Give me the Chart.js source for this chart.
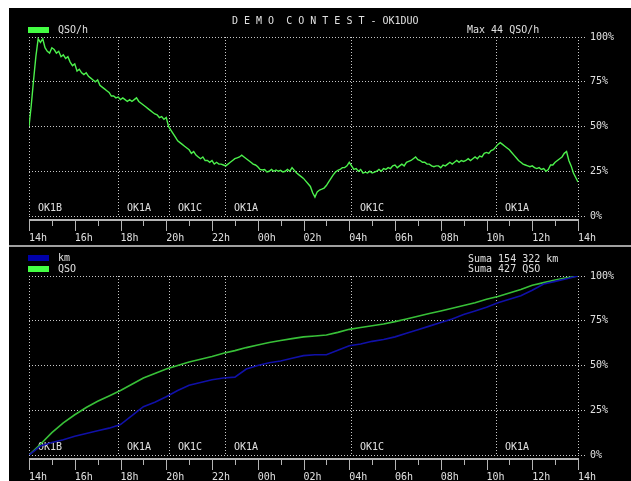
<!DOCTYPE html>
<html>
<head>
<meta charset="utf-8">
<script src="https://cdn.jsdelivr.net/npm/chart.js@4.4.1/dist/chart.umd.min.js"></script>
<style>
    body { margin: 0; background: #fff; }
    #panel {
        position: absolute; left: 9px; top: 8px; width: 622px; height: 473px;
        background: #000; overflow: hidden;
        font: 10px 'DejaVu Sans Mono', monospace; color: #e0e0e0;
    }
    .t { position: absolute; line-height: 10px; white-space: pre; }
    .box { position: absolute; width: 21px; height: 6px; }
    canvas { position: absolute; left: 0; }
    #sep { position: absolute; left: 0; top: 237px; width: 622px; height: 2px; background: #a0a0a0; }
</style>
</head>
<body>
<div id="panel">
    <canvas id="rateChart" width="622" height="237" style="top:0"></canvas>
    <div id="sep"></div>
    <canvas id="sumChart" width="622" height="234" style="top:239px"></canvas>

    <div class="t" style="left:223px;top:8px">D E M O  C O N T E S T - OK1DUO</div>
    <div class="box" style="left:19px;top:19px;background:#44ff44"></div>
    <div class="t" style="left:49px;top:17px">QSO/h</div>
    <div class="t" style="left:458px;top:17px">Max 44 QSO/h</div>

    <div class="box" style="left:19px;top:247px;background:#0000aa"></div>
    <div class="t" style="left:49px;top:245px">km</div>
    <div class="box" style="left:19px;top:258px;background:#44ff44"></div>
    <div class="t" style="left:49px;top:256px">QSO</div>
    <div class="t" style="left:459px;top:246px">Suma 154 322 km</div>
    <div class="t" style="left:459px;top:256px">Suma 427 QSO</div>
</div>

<script>
// ================================================================
// DATOS
// ================================================================
// horas desde 14h (eje X lineal 0..24)
const hourLabels = ['14h', '16h', '18h', '20h', '22h', '00h', '02h', '04h',
                    '06h', '08h', '10h', '12h', '14h'];

// cambios de estación (horas desde 14h) y nombre
const changeTimes = [0, 3.89, 6.11, 8.56, 14.06, 20.40, 24];
const changeStations = ['OK1B', 'OK1A', 'OK1C', 'OK1A', 'OK1C', 'OK1A'];

// QSO/h en % del máximo (44 QSO/h), una muestra cada 0.1 h
const RATE_STEP = 0.1;
const qsoRate = [
    50, 62, 76, 89, 99, 97, 99, 94, 92, 91,
    94, 93, 91, 92, 89, 90, 88, 89, 86, 84,
    85, 81, 82, 80, 79, 80, 78, 77, 76, 75,
    76, 73, 72, 71, 70, 69, 67, 67, 66, 66.5,
    65, 66, 65, 64, 65, 64, 65, 66, 64, 63,
    62, 61, 60, 59, 58, 57, 56.5, 55, 55.5, 54,
    55, 50, 48, 46, 44, 42, 41, 40, 39, 38,
    37, 35, 36, 34, 33, 32, 33, 31, 31, 30,
    31, 29, 30, 29, 29, 28.5, 28, 29, 30, 31,
    32, 32.5, 33, 34, 33, 32, 31, 30, 29, 28.5,
    27.5, 26, 25.7, 26, 24.6, 25, 26, 25, 25.7, 25,
    25.5, 24.6, 25, 26, 25, 27, 25.5, 24, 23, 22,
    21, 19.5, 18, 16.5, 13, 10.6, 13.5, 14.5, 15, 15.6,
    17, 19, 21, 23, 24.6, 25.5, 26, 27, 27, 28,
    30, 28, 26, 26.5, 25, 26, 24, 24.5, 24, 25,
    24, 24.5, 25, 26, 25, 26.5, 26, 27, 26.5, 28,
    28.5, 27, 28, 29, 28, 30, 30.5, 31, 32, 33,
    31.5, 31, 30, 30, 29, 29, 28, 27.5, 28, 28,
    27, 28.5, 28, 29, 30, 29, 30, 31, 30, 31,
    30.5, 31, 32, 31, 32, 33, 32, 33.5, 33, 35,
    35.5, 35, 36.5, 37, 38.5, 40, 41, 40, 39, 38,
    37, 35.5, 34, 32.5, 31, 30, 29, 28.5, 28, 27.5,
    28, 27, 26.5, 27, 26, 26.5, 25, 26, 28.5, 28.5,
    30, 31, 32, 33, 35, 36, 31, 28, 24, 21.5,
    19
];

// sumas acumuladas en % del total, una muestra cada 0.5 h
const SUM_STEP = 0.5;
const kmSum = [
    0, 5, 7, 8.5, 10.5, 12, 13.5, 15, 17, 22,
    27, 29.5, 32.5, 36, 39, 40.5, 42, 43, 43.5, 48,
    50, 51.5, 52.5, 54, 55.5, 56, 56, 58.5, 61, 62,
    63.5, 64.5, 66, 68, 70, 72, 74, 76, 78.5, 80.5,
    82.5, 85, 87, 89, 92, 95.5, 97, 98.5, 100
];
const qsoSum = [
    0, 6, 12.5, 18, 22.5, 26.5, 30, 33, 36, 39.5,
    43, 45.5, 48, 50, 52, 53.5, 55, 56.8, 58.3, 60,
    61.5, 62.8, 64, 65, 66, 66.5, 67, 68.5, 70.2, 71.2,
    72.2, 73.2, 74.5, 76, 77.5, 79, 80.5, 82, 83.5, 85,
    87, 88.5, 90.5, 92.5, 94.8, 96.3, 97.8, 99, 100
];

// ================================================================
// ESTILO
// ================================================================
const TEXT = '#e0e0e0';
const GRID = '#c8c8c8';
const AXIS = '#b4b4b4';
const FONT = { family: "'DejaVu Sans Mono', monospace", size: 10 };

const toPoints = (values, step) => values.map((v, i) => ({ x: i * step, y: v }));

// líneas de cambio de estación + eje inferior con marcas
const markerPlugin = {
    id: 'markers',
    beforeDatasetsDraw(chart) {
        const { ctx, chartArea: a, scales: { x } } = chart;
        ctx.save();
        ctx.strokeStyle = GRID;
        ctx.lineWidth = 1;
        ctx.setLineDash([1, 2]);
        changeTimes.forEach(t => {
            const px = Math.round(x.getPixelForValue(t)) + 0.5;
            ctx.beginPath();
            ctx.moveTo(px, a.top);
            ctx.lineTo(px, a.bottom);
            ctx.stroke();
        });
        ctx.setLineDash([]);

        ctx.fillStyle = TEXT;
        ctx.font = "10px 'DejaVu Sans Mono', monospace";
        ctx.textBaseline = 'middle';
        changeStations.forEach((s, i) => {
            ctx.fillText(s, Math.round(x.getPixelForValue(changeTimes[i])) + 9, a.bottom - 8);
        });

        const ay = a.bottom + 4;
        ctx.strokeStyle = AXIS;
        ctx.lineWidth = 2;
        ctx.beginPath();
        ctx.moveTo(x.getPixelForValue(0), ay);
        ctx.lineTo(x.getPixelForValue(24) + 1, ay);
        ctx.stroke();
        ctx.lineWidth = 1;
        for (let h = 0; h <= 24; h++) {
            const px = Math.round(x.getPixelForValue(h)) + 0.5;
            ctx.beginPath();
            ctx.moveTo(px, ay);
            ctx.lineTo(px, ay + (h % 2 === 0 ? 11 : 6));
            ctx.stroke();
        }
        ctx.restore();
    }
};

function makeChart(id, datasets, axisHeight) {
    return new Chart(document.getElementById(id), {
        type: 'line',
        data: { datasets },
        plugins: [markerPlugin],
        options: {
            responsive: false,
            animation: false,
            layout: { padding: { left: 20, top: 29, right: 0, bottom: 0 } },
            plugins: { legend: { display: false }, tooltip: { enabled: false } },
            elements: { point: { radius: 0 }, line: { tension: 0 } },
            scales: {
                x: {
                    type: 'linear', min: 0, max: 24,
                    afterFit: s => { s.height = axisHeight; },
                    grid: { display: false, drawTicks: false },
                    border: { display: false },
                    ticks: {
                        stepSize: 2, autoSkip: false, maxRotation: 0,
                        align: 'start', padding: 16,
                        color: TEXT, font: FONT,
                        callback: v => hourLabels[v / 2]
                    }
                },
                y: {
                    position: 'right', min: 0, max: 100,
                    afterFit: s => { s.width = 53; },
                    grid: { color: GRID, tickLength: 9, tickColor: GRID, tickBorderDash: [1, 2] },
                    border: { display: false, dash: [1, 2] },
                    ticks: { stepSize: 25, padding: 3, color: TEXT, font: FONT, callback: v => v + '%' }
                }
            }
        }
    });
}

makeChart('rateChart', [{
    label: 'QSO/h',
    data: toPoints(qsoRate, RATE_STEP),
    borderColor: '#4cf04c',
    borderWidth: 1.4
}], 29);

makeChart('sumChart', [{
    label: 'km',
    data: toPoints(kmSum, SUM_STEP),
    borderColor: '#1010a8',
    borderWidth: 1.6
}, {
    label: 'QSO',
    data: toPoints(qsoSum, SUM_STEP),
    borderColor: '#38c038',
    borderWidth: 1.6
}], 26);
</script>
</body>
</html>
